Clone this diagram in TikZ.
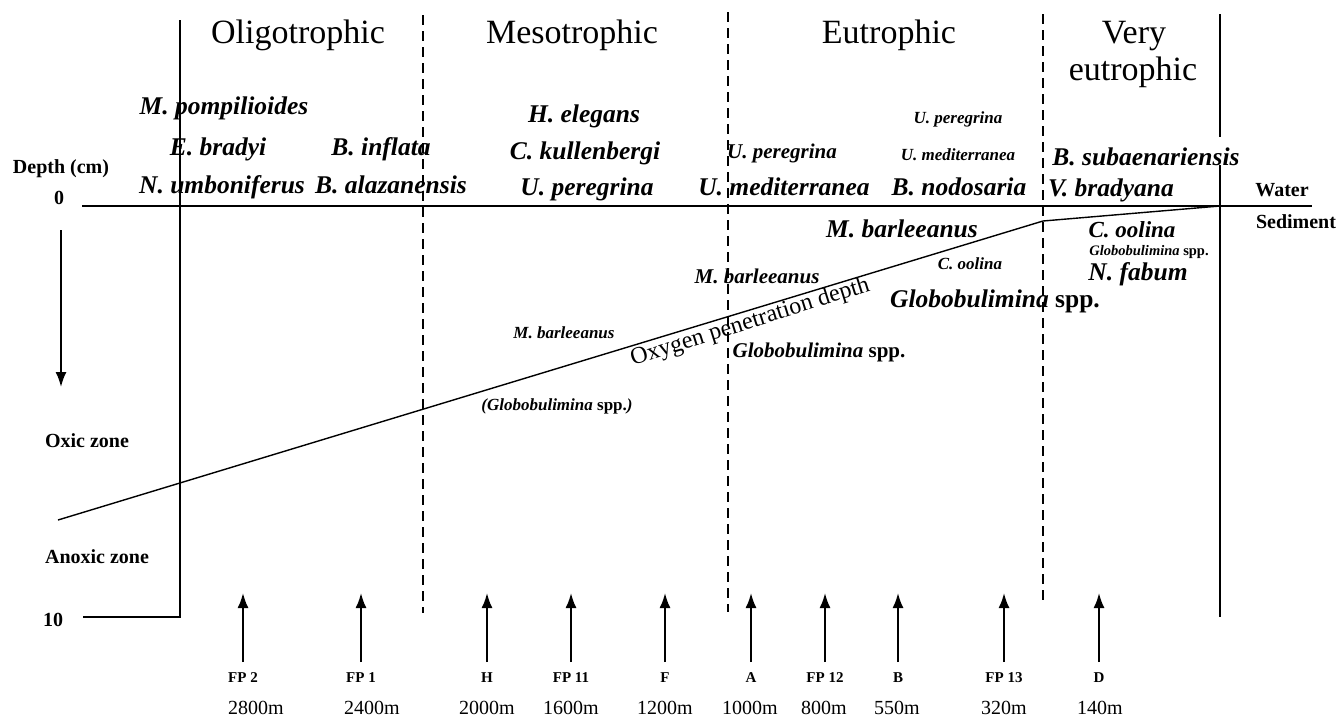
\documentclass[tikz,border=0pt]{standalone}
\usepackage{fontspec}
\setmainfont{Liberation Serif}
\usetikzlibrary{arrows.meta}
\begin{document}
\begin{tikzpicture}[x=1pt,y=-1pt,
  title/.style={font=\fontsize{34}{40}\selectfont, anchor=base, inner sep=0pt},
  spL/.style={font=\fontsize{25.5}{30}\selectfont\bfseries\itshape, anchor=base, inner sep=0pt},
  spM/.style={font=\fontsize{21}{25}\selectfont\bfseries\itshape, anchor=base, inner sep=0pt},
  spS/.style={font=\fontsize{17}{20}\selectfont\bfseries\itshape, anchor=base, inner sep=0pt},
  spXS/.style={font=\fontsize{14.5}{17}\selectfont\bfseries\itshape, anchor=base, inner sep=0pt},
  lab/.style={font=\fontsize{20}{24}\selectfont\bfseries, anchor=base, inner sep=0pt},
  site/.style={font=\fontsize{15}{18}\selectfont\bfseries, anchor=base, inner sep=0pt},
  dist/.style={font=\fontsize{20}{24}\selectfont, anchor=base, inner sep=0pt},
  solidline/.style={line width=2pt},
  dashline/.style={line width=1.8pt, dash pattern=on 10pt off 6pt},
  oxline/.style={line width=1.4pt},
  uparrow/.style={line width=2pt,-{Latex[length=15pt,width=11pt]}},
]
\fill[white] (0,0) rectangle (1338,716);
\useasboundingbox (0,0) rectangle (1338,716);

% frame lines
\coordinate (lt) at (180,20);
\coordinate (lc) at (180,617);
\coordinate (l10) at (83,617);
\coordinate (h0) at (82,206);
\coordinate (h1) at (1312,206);
\coordinate (rt) at (1220,14);
\coordinate (rm1) at (1220,137);
\coordinate (rm2) at (1220,165);
\coordinate (rb) at (1220,617);
\draw[solidline] (lt) -- (lc) -- (l10);
\draw[solidline] (h0) -- (h1);
\draw[solidline] (rt) -- (rm1);
\draw[solidline] (rm2) -- (rb);

% dashed boundaries
\coordinate (d1t) at (423,15); \coordinate (d1b) at (423,613);
\coordinate (d2t) at (728,12); \coordinate (d2b) at (728,612);
\coordinate (d3t) at (1043,14); \coordinate (d3b) at (1043,603);
\draw[dashline] (d1t) -- (d1b);
\draw[dashline] (d2t) -- (d2b);
\draw[dashline] (d3t) -- (d3b);

% oxygen penetration line
\coordinate (o1) at (58,520);
\coordinate (o2) at (1043,221);
\coordinate (o3) at (1220,206);
\draw[oxline] (o1) -- (o2) -- (o3);
\node[font=\fontsize{24}{28}\selectfont, anchor=base, inner sep=0pt, rotate=17.5] (oxy) at (752,328) {Oxygen penetration depth};

% depth arrow
\coordinate (da1) at (61,230);
\coordinate (da2) at (61,387);
\draw[uparrow] (da1) -- (da2);

% titles
\node[title] (oligo) at (298,43) {Oligotrophic};
\node[title] (meso) at (572,43) {Mesotrophic};
\node[title] (eu) at (889,43) {Eutrophic};
\node[title] (very) at (1134,43) {Very};
\node[title] (veu) at (1133,80) {eutrophic};

% left labels
\node[lab] (depth) at (61,173) {Depth (cm)};
\node[lab] (zero) at (59,204) {0};
\node[lab] (oxic) at (87,447) {Oxic zone};
\node[lab] (anoxic) at (97,563) {Anoxic zone};
\node[lab] (ten) at (53,626) {10};
\node[lab] (water) at (1282,196) {Water};
\node[lab] (sed) at (1296,228) {Sediment};

% oligotrophic species
\node[spL] (mpom) at (224,114) {M. pompilioides};
\node[spL] (ebra) at (218,155) {E. bradyi};
\node[spL] (numb) at (222,193) {N. umboniferus};
\node[spL] (binf) at (381,155) {B. inflata};
\node[spL] (bala) at (391,193) {B. alazanensis};

% mesotrophic species
\node[spL] (hele) at (584,122) {H. elegans};
\node[spL] (ckul) at (585,159) {C. kullenbergi};
\node[spL] (uper1) at (587,195) {U. peregrina};
\node[spS] (mbar1) at (564,338) {M. barleeanus};
\node[spS] (glob1) at (557,410) {(Globobulimina {\upshape spp.})};

% eutrophic species
\node[spM] (uper2) at (782,158) {U. peregrina};
\node[spL] (umed1) at (784,195) {U. mediterranea};
\node[spS] (uper3) at (958,123) {U. peregrina};
\node[spS] (umed2) at (958,160) {U. mediterranea};
\node[spL] (bnod) at (959,195) {B. nodosaria};
\node[spL] (mbar2) at (902,237) {M. barleeanus};
\node[spM] (mbar3) at (757,283) {M. barleeanus};
\node[spS] (cool1) at (970,269) {C. oolina};
\node[spL] (glob2) at (995,307) {Globobulimina \upshape spp.};
\node[spM] (glob3) at (819,357) {Globobulimina \upshape spp.};

% very eutrophic species
\node[spL] (bsub) at (1146,165) {B. subaenariensis};
\node[spL] (vbra) at (1111,196) {V. bradyana};
\node[font=\fontsize{23}{27}\selectfont\bfseries\itshape, anchor=base, inner sep=0pt] (cool2) at (1132,237) {C. oolina};
\node[spXS] (glob4) at (1149,255) {Globobulimina \upshape spp.};
\node[spL] (nfab) at (1138,280) {N. fabum};

% stations
\foreach \nm/\xx/\lbl/\dx/\dd in {fp2/243/FP 2/256/2800m, fp1/361/FP 1/372/2400m, h/487/H/487/2000m, fp11/571/FP 11/571/1600m, f/665/F/665/1200m, a/751/A/750/1000m, fp12/825/FP 12/824/800m, b/898/B/897/550m, fp13/1004/FP 13/1004/320m, d/1099/D/1100/140m}{
  \coordinate (\nm-s) at (\xx,662);
  \coordinate (\nm-e) at (\xx,593);
  \draw[uparrow] (\nm-s) -- (\nm-e);
  \node[site] (\nm-lab) at (\xx,682) {\lbl};
  \node[dist] (\nm-dist) at (\dx,714) {\dd};
}
\end{tikzpicture}
\end{document}
